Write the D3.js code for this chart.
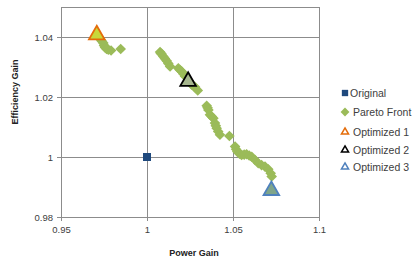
<!doctype html>
<html>
<head>
  <script src="https://d3js.org/d3.v7.min.js"></script>
  <style>
  body { margin: 0; background: #fff; }
  svg { font-family: "Liberation Sans", Arial, sans-serif; }
  .grid line { stroke: #8c8c8c; stroke-width: 1; shape-rendering: crispEdges; }
  .axis path { display: none; }
  .axis line { stroke: #8c8c8c; shape-rendering: crispEdges; }
  .axis text { fill: #404040; font-size: 9.5px; }
  .title { font-size: 9px; font-weight: bold; fill: #222; }
  .legend text { font-size: 10.5px; fill: #404040; }
  </style>
</head>
<body>
<script>
var original = [[1.0, 1.0]];

var pareto = [
  [0.9717, 1.0402], [0.9727, 1.0393], [0.9738, 1.0386], [0.9746, 1.0380],
  [0.9750, 1.0372], [0.9756, 1.0365], [0.9765, 1.0360], [0.9775, 1.0358],
  [0.9791, 1.0355], [0.9847, 1.0360],
  [1.0076, 1.0350], [1.0080, 1.0346], [1.0085, 1.0343], [1.0095, 1.0335],
  [1.0104, 1.0328], [1.0114, 1.0321], [1.0124, 1.0312], [1.0134, 1.0302],
  [1.0182, 1.0296], [1.0192, 1.0290], [1.0202, 1.0285], [1.0212, 1.0277],
  [1.0221, 1.0269], [1.0240, 1.0255], [1.0260, 1.0241], [1.0270, 1.0237],
  [1.0279, 1.0233], [1.0295, 1.0222],
  [1.0347, 1.0171], [1.0352, 1.0164], [1.0357, 1.0157], [1.0366, 1.0141],
  [1.0376, 1.0135], [1.0386, 1.0129], [1.0395, 1.0113], [1.0400, 1.0104],
  [1.0405, 1.0096], [1.0414, 1.0085], [1.0424, 1.0074], [1.0479, 1.0070],
  [1.0512, 1.0035], [1.0518, 1.0026], [1.0525, 1.0018], [1.0538, 1.0011],
  [1.0550, 1.0007], [1.0565, 1.0008], [1.0579, 1.0009], [1.0594, 1.0005],
  [1.0609, 1.0001], [1.0628, 0.9990], [1.0647, 0.9979], [1.0666, 0.9973],
  [1.0686, 0.9968], [1.0705, 0.9959], [1.0719, 0.9946], [1.0725, 0.9935]
];

var optimized1 = [[0.9708, 1.0404]];
var optimized2 = [[1.0239, 1.0249]];
var optimized3 = [[1.0723, 0.9885]];

var xTicks = [0.95, 1, 1.05, 1.1];
var yTicks = [0.98, 1, 1.02, 1.04];

var width = 416, height = 270;
var plotLeft = 61, plotRight = 319, plotTop = 7, plotBottom = 217;

var x = d3.scaleLinear().domain([0.95, 1.1]).range([plotLeft, plotRight]);
var y = d3.scaleLinear().domain([0.98, 1.05]).range([plotBottom, plotTop]);

var svg = d3.select("body").append("svg")
    .attr("width", width)
    .attr("height", height);

// gridlines
var grid = svg.append("g").attr("class", "grid");
grid.selectAll(".gx").data(xTicks).enter().append("line")
    .attr("x1", function(d){ return Math.round(x(d)) + 0.5; })
    .attr("x2", function(d){ return Math.round(x(d)) + 0.5; })
    .attr("y1", plotTop).attr("y2", plotBottom);
grid.selectAll(".gy").data(yTicks.concat([1.05])).enter().append("line")
    .attr("y1", function(d){ return Math.round(y(d)) + 0.5; })
    .attr("y2", function(d){ return Math.round(y(d)) + 0.5; })
    .attr("x1", plotLeft).attr("x2", plotRight);

svg.append("g")
    .attr("class", "axis")
    .attr("transform", "translate(0," + plotBottom + ")")
    .call(d3.axisBottom(x).tickValues(xTicks).tickSize(4).tickPadding(5)
      .tickFormat(function(d){ return d3.format("")(d); }));

svg.append("g")
    .attr("class", "axis")
    .attr("transform", "translate(" + plotLeft + ",0)")
    .call(d3.axisLeft(y).tickValues(yTicks).tickSize(4).tickPadding(4)
      .tickFormat(function(d){ return d3.format("")(d); }));

svg.append("text")
    .attr("class", "title")
    .attr("x", 194).attr("y", 256)
    .attr("text-anchor", "middle")
    .text("Power Gain");

svg.append("text")
    .attr("class", "title")
    .attr("transform", "translate(18,92) rotate(-90)")
    .attr("text-anchor", "middle")
    .text("Efficiency Gain");

var diamond = d3.symbol().type(d3.symbolDiamond2).size(72);
var square = d3.symbol().type(d3.symbolSquare).size(64);
var tri = d3.symbol().type(d3.symbolTriangle).size(105);

svg.append("g").selectAll("path").data(pareto).enter().append("path")
    .attr("d", diamond)
    .attr("transform", function(d){ return "translate(" + x(d[0]) + "," + y(d[1]) + ")"; })
    .attr("fill", "#9bbb59");

svg.append("g").selectAll("path").data(original).enter().append("path")
    .attr("d", square)
    .attr("transform", function(d){ return "translate(" + x(d[0]) + "," + y(d[1]) + ")"; })
    .attr("fill", "#1f497d");

var optSeries = [
  {data: optimized1, stroke: "#e46c0a", fill: "#c8d83a"},
  {data: optimized2, stroke: "#000000", fill: "#a6b68e"},
  {data: optimized3, stroke: "#4f81bd", fill: "#7fa58a"}
];
optSeries.forEach(function(s){
  svg.append("g").selectAll("path").data(s.data).enter().append("path")
      .attr("d", tri)
      .attr("transform", function(d){ return "translate(" + x(d[0]) + "," + (y(d[1]) - 1) + ")"; })
      .attr("fill", s.fill)
      .attr("stroke", s.stroke)
      .attr("stroke-width", 1.8);
});

// legend
var legendItems = [
  {name: "Original", y: 93, sym: d3.symbol().type(d3.symbolSquare).size(40), fill: "#1f497d", stroke: "none", tx: 350},
  {name: "Pareto Front", y: 112, sym: d3.symbol().type(d3.symbolDiamond2).size(50), fill: "#9bbb59", stroke: "none", tx: 353},
  {name: "Optimized 1", y: 132, sym: d3.symbol().type(d3.symbolTriangle).size(22), fill: "#ffffff", stroke: "#e46c0a", tx: 353},
  {name: "Optimized 2", y: 150, sym: d3.symbol().type(d3.symbolTriangle).size(22), fill: "#ffffff", stroke: "#000000", tx: 353},
  {name: "Optimized 3", y: 167, sym: d3.symbol().type(d3.symbolTriangle).size(22), fill: "#ffffff", stroke: "#4f81bd", tx: 353}
];
var legend = svg.append("g").attr("class", "legend");
var li = legend.selectAll("g").data(legendItems).enter().append("g");
li.append("path")
    .attr("d", function(d){ return d.sym(); })
    .attr("transform", function(d){ return "translate(345," + d.y + ")"; })
    .attr("fill", function(d){ return d.fill; })
    .attr("stroke", function(d){ return d.stroke; })
    .attr("stroke-width", 1.5);
li.append("text")
    .attr("x", function(d){ return d.tx; })
    .attr("y", function(d){ return d.y + 4; })
    .text(function(d){ return d.name; });
</script>
</body>
</html>
